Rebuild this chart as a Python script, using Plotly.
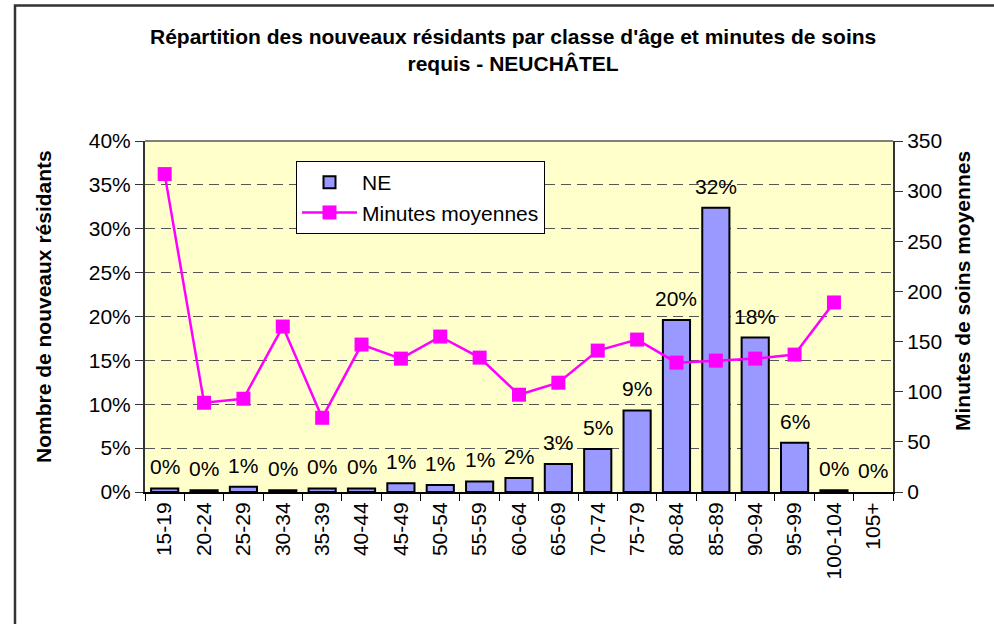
import plotly.graph_objects as go

categories = ["15-19", "20-24", "25-29", "30-34", "35-39", "40-44", "45-49", "50-54",
              "55-59", "60-64", "65-69", "70-74", "75-79", "80-84", "85-89", "90-94",
              "95-99", "100-104", "105+"]
ne_share = [0.004, 0.002, 0.006, 0.002, 0.004, 0.004, 0.010, 0.008, 0.012, 0.016,
            0.032, 0.049, 0.093, 0.196, 0.324, 0.176, 0.056, 0.002, 0.0]
minutes = [317, 89, 93, 165, 74, 147, 133, 155, 134, 97, 109, 141, 152, 129, 131,
           133, 137, 189, None]
left_ticks = [0, 0.05, 0.10, 0.15, 0.20, 0.25, 0.30, 0.35, 0.40]
right_ticks = [0, 50, 100, 150, 200, 250, 300, 350]

FONT = "Liberation Sans, Arial, sans-serif"
FS = 21

W, H = 994, 624
L, R, T, B = 145, 893, 141, 492


def px_x(p):
    return (p - L) / (R - L)


def px_y(p):
    return (B - p) / (B - T)


fig = go.Figure()
fig.add_trace(go.Bar(
    x=categories, y=[v if v > 0 else None for v in ne_share], name="NE",
    marker=dict(color="#9999FF", line=dict(color="black", width=2)),
    yaxis="y",
))
fig.add_trace(go.Scatter(
    x=categories, y=minutes, name="Minutes moyennes", mode="lines+markers",
    line=dict(color="#FF00FF", width=2.5),
    marker=dict(symbol="square", size=14, color="#FF00FF"),
    yaxis="y2", connectgaps=False,
))

annotations = []
for c, v in zip(categories, ne_share):
    annotations.append(dict(
        x=c, y=v, xref="x", yref="y", text=f"{round(v * 100):.0f}%",
        showarrow=False, yanchor="bottom", yshift=8,
        font=dict(family=FONT, size=FS, color="black"),
    ))

annotations.append(dict(
    x=px_x(513), y=px_y(49.5), xref="paper", yref="paper",
    text="<b>Répartition des nouveaux résidants par classe d'âge et minutes de soins<br>requis - NEUCHÂTEL</b>",
    showarrow=False, xanchor="center", yanchor="middle",
    font=dict(family=FONT, size=21, color="black"),
))
annotations.append(dict(
    x=px_x(43), y=px_y(307), xref="paper", yref="paper",
    text="<b>Nombre de nouveaux résidants</b>", textangle=-90,
    showarrow=False, xanchor="center", yanchor="middle",
    font=dict(family=FONT, size=21, color="black"),
))
annotations.append(dict(
    x=px_x(962), y=px_y(291), xref="paper", yref="paper",
    text="<b>Minutes de soins moyennes</b>", textangle=-90,
    showarrow=False, xanchor="center", yanchor="middle",
    font=dict(family=FONT, size=21, color="black"),
))

shapes = [
    dict(type="rect", xref="paper", yref="paper",
         x0=px_x(15), x1=px_x(1010), y0=px_y(640), y1=px_y(5.5),
         line=dict(color="#333333", width=2.5), fillcolor="rgba(0,0,0,0)", layer="below"),
    dict(type="line", xref="paper", yref="paper", x0=0, x1=1, y0=1, y1=1,
         line=dict(color="#808080", width=2)),
]

fig.update_layout(
    width=W, height=H,
    margin=dict(l=L, r=W - R, t=T, b=H - B, pad=0),
    paper_bgcolor="white", plot_bgcolor="#FFFFCC",
    font=dict(family=FONT, size=FS, color="black"),
    bargap=0.31,
    showlegend=True,
    legend=dict(
        x=px_x(296), y=px_y(161), xanchor="left", yanchor="top",
        bgcolor="white", bordercolor="black", borderwidth=1,
        font=dict(family=FONT, size=FS, color="black"),
        tracegroupgap=0, itemwidth=55,
    ),
    xaxis=dict(
        type="category", range=[-0.5, len(categories) - 0.5], tickangle=-90, tickson="boundaries",
        ticks="outside", ticklen=7, tickcolor="black",
        showline=True, linecolor="black", linewidth=2,
        showgrid=False, tickfont=dict(family=FONT, size=FS),
    ),
    yaxis=dict(
        range=[0, 0.4], tickvals=left_ticks, tickformat=".0%",
        ticks="outside", ticklen=8, tickcolor="#333333",
        showline=True, linecolor="#333333", linewidth=2,
        showgrid=True, gridcolor="#555555", gridwidth=1, griddash="10px,6px",
        zeroline=False, tickfont=dict(family=FONT, size=FS),
    ),
    yaxis2=dict(
        range=[0, 350], tickvals=right_ticks, overlaying="y", side="right",
        ticks="outside", ticklen=8, tickcolor="#333333",
        showline=True, linecolor="#333333", linewidth=2,
        showgrid=False, zeroline=False, tickfont=dict(family=FONT, size=FS),
    ),
    annotations=annotations,
    shapes=shapes,
)

fig.write_html("out.html", config={"displayModeBar": False},
               post_script="document.body.style.margin='0';")
